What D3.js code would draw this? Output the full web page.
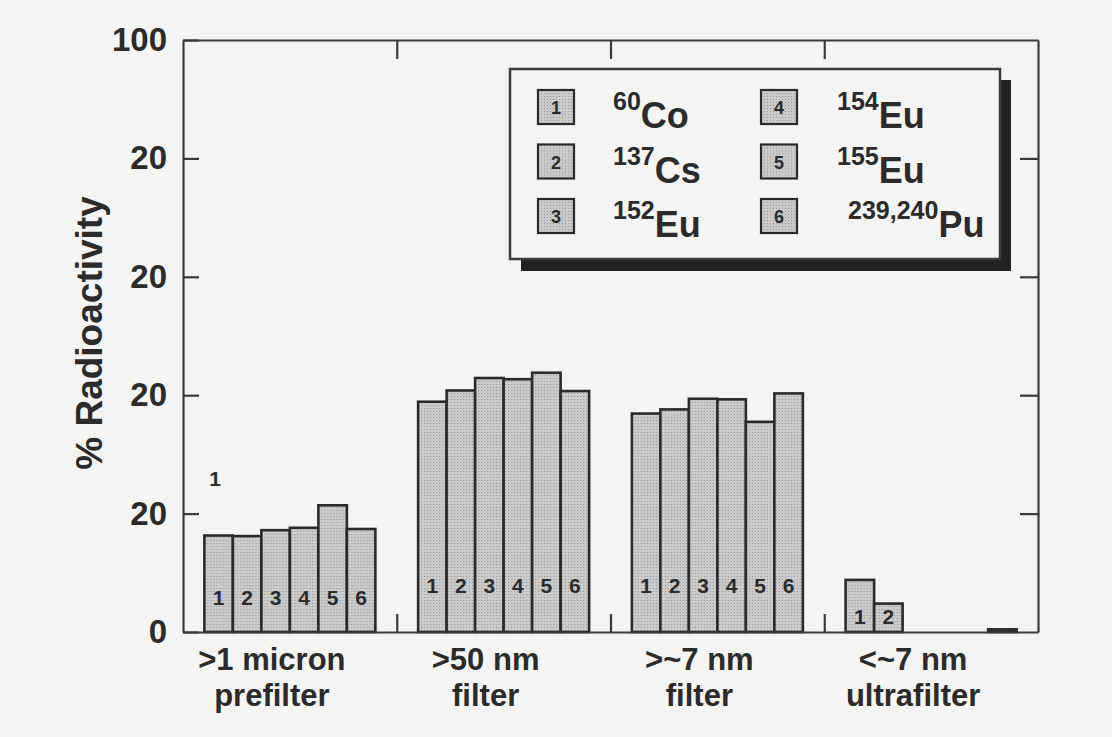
<!DOCTYPE html>
<html>
<head>
<meta charset="utf-8">
<script src="https://cdn.jsdelivr.net/npm/d3@7"></script>
<style>
  body { margin: 0; background: #f4f4f2; }
  svg { display: block; }
  text { font-family: "Liberation Sans", Arial, sans-serif; font-weight: bold; fill: #2b2b2b; }
</style>
</head>
<body>
<svg id="chart" width="1112" height="737"></svg>
<script>
// fractions (filters) and isotopes
var groups = ["prefilter", "filter50", "filter7", "ultrafilter"]
var group_line1 = [">1 micron", ">50 nm", ">~7 nm", "<~7 nm"]
var group_line2 = ["prefilter", "filter", "filter", "ultrafilter"]
var isotopes = ["1", "2", "3", "4", "5", "6"]
var mass_numbers = ["60", "137", "152", "154", "155", "239,240"]
var symbols = ["Co", "Cs", "Eu", "Eu", "Eu", "Pu"]

// % radioactivity per isotope 1..6
var prefilter_vals = [16.3, 16.2, 17.2, 17.6, 21.4, 17.4]
var filter50_vals = [38.9, 40.8, 42.9, 42.7, 43.8, 40.7]
var filter7_vals = [36.9, 37.6, 39.4, 39.3, 35.5, 40.3]
var ultra_vals = [8.8, 4.8, 0, 0, 0, 0.45]

var y_ticks = [0, 20, 40, 60, 80, 100]
var y_tick_labels = ["0", "20", "20", "20", "20", "100"]

var all_vals = [prefilter_vals, filter50_vals, filter7_vals, ultra_vals]

var svg = d3.select("#chart")
var plot_left = 183, plot_right = 1038, plot_top = 40, plot_bottom = 632

var defs = svg.append("defs")
var pat = defs.append("pattern")
    .attr("id", "dots")
    .attr("width", 3).attr("height", 3)
    .attr("patternUnits", "userSpaceOnUse")
pat.append("rect").attr("width", 3).attr("height", 3).attr("fill", "#cbcbcb")
pat.append("rect").attr("width", 1).attr("height", 1).attr("fill", "#969696")

var y = d3.scaleLinear().domain([0, 100]).range([plot_bottom, plot_top])
var x0 = d3.scaleBand().domain(groups).range([plot_left, plot_right]).paddingInner(0.2).paddingOuter(0.1)
var x1 = d3.scaleBand().domain(isotopes).range([0, x0.bandwidth()])
var x_edge = d3.scaleLinear().domain([0, 4]).range([plot_left, plot_right])

// bars
var group_g = svg.selectAll("g.grp")
    .data(groups)
    .enter().append("g")
    .attr("class", "grp")
    .attr("transform", function(d) { return "translate(" + x0(d) + ",0)" })

group_g.each(function(g, gi) {
    var vals = all_vals[gi]
    var labeled = vals.filter(function(v) { return v > 1 })
    var min_v = d3.min(labeled)
    var label_base = Math.min(6.6, min_v * 0.28)
    var sel = d3.select(this)
    sel.selectAll("rect")
        .data(vals.map(function(v, i) { return {k: isotopes[i], v: v} }).filter(function(d) { return d.v > 0 }))
        .enter().append("rect")
        .attr("x", function(d) { return x1(d.k) })
        .attr("y", function(d) { return y(d.v) })
        .attr("width", x1.bandwidth())
        .attr("height", function(d) { return y(0) - y(d.v) })
        .attr("fill", "url(#dots)")
        .attr("stroke", "#2a2a2a")
        .attr("stroke-width", 2.6)
    sel.selectAll("text")
        .data(vals.map(function(v, i) { return {k: isotopes[i], v: v} }).filter(function(d) { return d.v > 1 }))
        .enter().append("text")
        .attr("x", function(d) { return x1(d.k) + x1.bandwidth() / 2 })
        .attr("y", y(label_base))
        .attr("text-anchor", "middle")
        .attr("font-size", 21)
        .text(function(d) { return d.k })
})

// stray label above the first group
svg.append("text")
    .attr("x", 215).attr("y", 486)
    .attr("text-anchor", "middle")
    .attr("font-size", 21)
    .text("1")

// axes
var ax_left = svg.append("g")
    .attr("transform", "translate(" + plot_left + ",0)")
    .call(d3.axisLeft(y).tickValues(y_ticks).tickSizeInner(-16).tickSizeOuter(0).tickPadding(16)
        .tickFormat(function(d, i) { return y_tick_labels[i] }))
var ax_right = svg.append("g")
    .attr("transform", "translate(" + plot_right + ",0)")
    .call(d3.axisRight(y).tickValues([20, 40, 60, 80]).tickSizeInner(-18).tickSizeOuter(0).tickFormat(""))
var ax_bottom = svg.append("g")
    .attr("transform", "translate(0," + plot_bottom + ")")
    .call(d3.axisBottom(x_edge).tickValues([1, 2, 3]).tickSizeInner(-18).tickSizeOuter(0).tickFormat(""))
var ax_top = svg.append("g")
    .attr("transform", "translate(0," + plot_top + ")")
    .call(d3.axisTop(x_edge).tickValues([1, 2, 3]).tickSizeInner(-19).tickSizeOuter(0).tickFormat(""))

svg.selectAll(".domain, .tick line").attr("stroke", "#3a3a3a").attr("stroke-width", 2.2)
ax_left.selectAll("text")
    .style("font-family", "'Liberation Sans', Arial, sans-serif")
    .style("font-weight", "bold")
    .attr("font-size", 33)
    .attr("fill", "#2b2b2b")

// y title
svg.append("text")
    .attr("transform", "translate(102,333) rotate(-90)")
    .attr("text-anchor", "middle")
    .attr("font-size", 37)
    .text("% Radioactivity")

// group labels
groups.forEach(function(g, i) {
    var cx = x0(g) + x0.bandwidth() / 2 - 18
    svg.append("text").attr("x", cx).attr("y", 670).attr("text-anchor", "middle")
        .attr("font-size", 31).text(group_line1[i])
    svg.append("text").attr("x", cx).attr("y", 706).attr("text-anchor", "middle")
        .attr("font-size", 31).text(group_line2[i])
})

// legend
var legend = svg.append("g")
legend.append("rect")
    .attr("x", 521).attr("y", 80).attr("width", 490).attr("height", 191)
    .attr("fill", "#222")
legend.append("rect")
    .attr("x", 510).attr("y", 69).attr("width", 490).attr("height", 190)
    .attr("fill", "#f4f4f2").attr("stroke", "#3a3a3a").attr("stroke-width", 2.5)

var leg_items = legend.selectAll("g.item")
    .data(isotopes)
    .enter().append("g")
    .attr("class", "item")
    .attr("transform", function(d, i) {
        var col = Math.floor(i / 3), row = i % 3
        return "translate(" + (538 + col * 223) + "," + (90 + row * 54.5) + ")"
    })

leg_items.append("rect")
    .attr("width", 36).attr("height", 34)
    .attr("fill", "url(#dots)")
    .attr("stroke", "#2a2a2a").attr("stroke-width", 2.2)
leg_items.append("text")
    .attr("x", 18).attr("y", 24)
    .attr("text-anchor", "middle")
    .attr("font-size", 18)
    .text(function(d) { return d })

var iso_text = leg_items.append("text")
    .attr("x", function(d, i) { return i < 3 ? 75 : 76 + (i == 5 ? 11 : 0) })
    .attr("y", 38)
iso_text.append("tspan")
    .attr("font-size", 25)
    .attr("dy", -18)
    .text(function(d, i) { return mass_numbers[i] })
iso_text.append("tspan")
    .attr("font-size", 36)
    .attr("dy", 18)
    .text(function(d, i) { return symbols[i] })
</script>
</body>
</html>
